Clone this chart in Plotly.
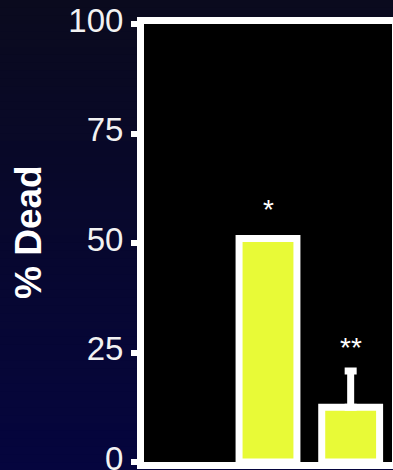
import plotly.graph_objects as go

# Data
categories = ["Control", "Treated", "Treated + inhibitor"]
pct_dead = [0, 51, 12.5]
err_up = [None, None, 8.3]
sig_marks = ["", "*", "**"]

# Figure geometry (pixels)
W, H = 393, 470
ML, MR, MT, MB = 144, 1, 24, 8
PW, PH = W - ML - MR, H - MT - MB

YELLOW = "#e8fa37"
WHITE = "#ffffff"
FONT = "Liberation Sans, Arial, sans-serif"

# outline only on bars that have height
outline_w = [7 if v > 0 else 0 for v in pct_dead]

fig = go.Figure()
fig.add_trace(go.Bar(
    x=categories,
    y=pct_dead,
    width=0.7,
    marker=dict(color=YELLOW, line=dict(color=WHITE, width=outline_w)),
    hoverinfo="skip",
))

# Upper error bars, only where an error value exists
eb_x = [c for c, e in zip(categories, err_up) if e is not None]
eb_y = [v for v, e in zip(pct_dead, err_up) if e is not None]
eb_e = [e for e in err_up if e is not None]
fig.add_trace(go.Scatter(
    x=eb_x, y=eb_y, mode="markers",
    marker=dict(size=1, color=WHITE),
    error_y=dict(type="data", symmetric=False, array=eb_e,
                 arrayminus=[0] * len(eb_e), color=WHITE,
                 thickness=7, width=6),
    hoverinfo="skip",
))

# Background: vertical navy gradient behind everything, black plot area on top
shapes = []
n_bands = 60
top_rgb = (10, 10, 30)
bot_rgb = (5, 5, 62)
x_lo, x_hi = -ML / PW, 1 + MR / PW
y_lo, y_hi = -MB / PH, 1 + MT / PH
for i in range(n_bands):
    t = i / (n_bands - 1)
    r = round(bot_rgb[0] + (top_rgb[0] - bot_rgb[0]) * t)
    g = round(bot_rgb[1] + (top_rgb[1] - bot_rgb[1]) * t)
    b = round(bot_rgb[2] + (top_rgb[2] - bot_rgb[2]) * t)
    y0 = y_lo + (y_hi - y_lo) * i / n_bands
    y1 = y_lo + (y_hi - y_lo) * (i + 1) / n_bands + 0.002
    shapes.append(dict(type="rect", xref="paper", yref="paper",
                       x0=x_lo, x1=x_hi, y0=y0, y1=y1,
                       fillcolor=f"rgb({r},{g},{b})", line=dict(width=0),
                       layer="below"))
shapes.append(dict(type="rect", xref="x domain", yref="y domain",
                   x0=0, x1=1, y0=0, y1=1, fillcolor="black",
                   line=dict(width=0), layer="below"))

# Significance marks above each bar (or its error bar)
mark_shift = [0, 12, 6]
annotations = []
for cat, v, e, m, s in zip(categories, pct_dead, err_up, sig_marks, mark_shift):
    if not m:
        continue
    annotations.append(dict(
        x=cat, y=v + (e or 0), text=m, showarrow=False,
        yanchor="bottom", yshift=s,
        font=dict(family=FONT, size=28, color=WHITE),
    ))

# Y-axis title as a rotated label in the left margin
annotations.append(dict(
    text="<b>% Dead</b>", textangle=-90, showarrow=False,
    xref="paper", yref="paper",
    x=(28 - ML) / PW, y=(H - MB - 232) / PH,
    xanchor="center", yanchor="middle",
    font=dict(family=FONT, size=37, color=WHITE),
))

fig.update_layout(
    width=W, height=H,
    margin=dict(l=ML, r=MR, t=MT, b=MB, pad=0, autoexpand=False),
    paper_bgcolor="rgb(8,7,40)",
    plot_bgcolor="black",
    showlegend=False,
    shapes=shapes,
    annotations=annotations,
    xaxis=dict(
        type="category", range=[-0.5, 2.5], automargin=False,
        showline=True, mirror=True, linecolor=WHITE, linewidth=7,
        showticklabels=False, ticks="", showgrid=False, zeroline=False,
    ),
    yaxis=dict(
        range=[0, 100], tickvals=[0, 25, 50, 75, 100], automargin=False,
        ticks="outside", ticklen=6, tickwidth=6, tickcolor=WHITE,
        showline=True, mirror=True, linecolor=WHITE, linewidth=7,
        showgrid=False, zeroline=False,
        tickfont=dict(family=FONT, size=33, color="#f2f2f2"),
        ticklabelstandoff=1, ticklabelshift=-4, ticklabeloverflow="allow",
    ),
)

fig.write_html("out.html")
